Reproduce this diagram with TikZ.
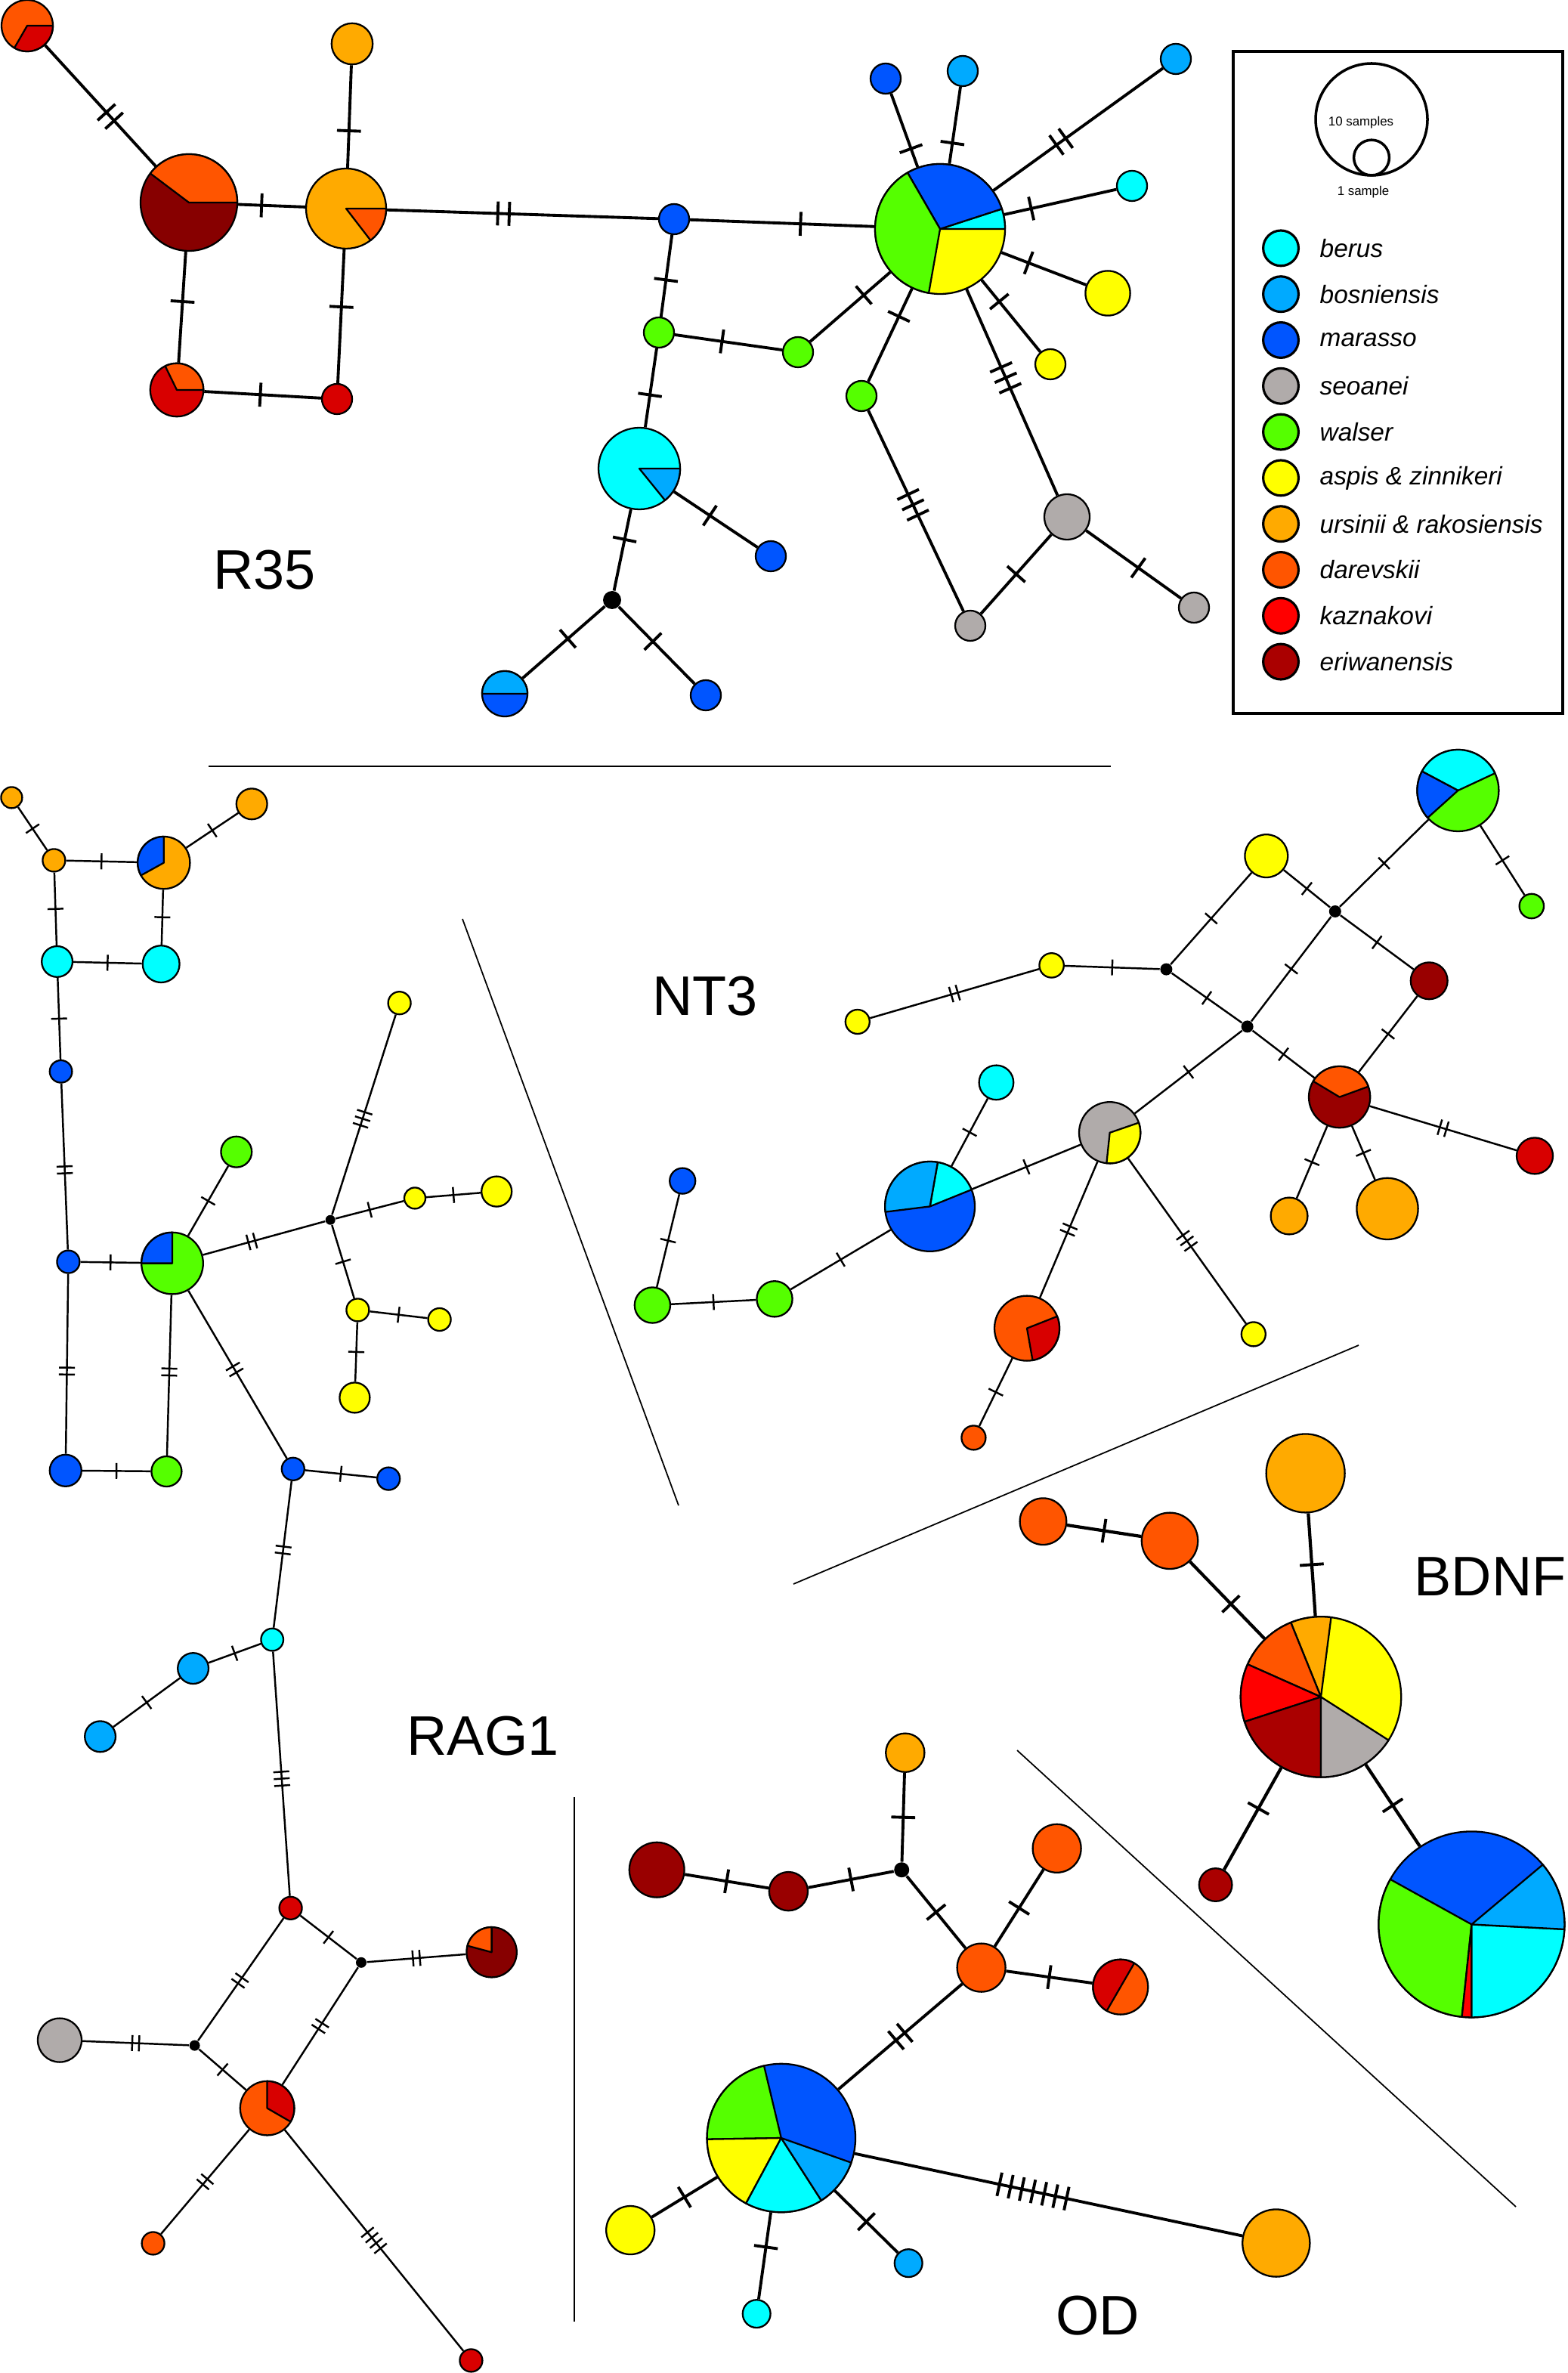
\documentclass[tikz,border=0pt]{standalone}
\usepackage{fontspec}
\setmainfont{Liberation Sans}
\usetikzlibrary{positioning, decorations.markings}

\definecolor{berus}{HTML}{00FFFF}
\definecolor{bosn}{HTML}{00AAFF}
\definecolor{mara}{HTML}{0055FF}
\definecolor{seoa}{HTML}{B0ABAA}
\definecolor{wals}{HTML}{55FF00}
\definecolor{aspis}{HTML}{FFFF00}
\definecolor{ursi}{HTML}{FFAA00}
\definecolor{dare}{HTML}{FF5500}
\definecolor{kazn}{HTML}{FF0000}
\definecolor{kazd}{HTML}{D80000}
\definecolor{eriw}{HTML}{AA0000}
\definecolor{erim}{HTML}{990000}
\definecolor{erid}{HTML}{870000}

\tikzset{
  hapl/.style={circle, draw, line width=0.65pt, inner sep=0pt},
  jn/.style={circle, fill=black, inner sep=0pt},
  thk/.style={line width=1.1pt},
  thn/.style={line width=0.7pt},
  sep/.style={line width=0.5pt},
  lbl/.style={font=\fontsize{21}{25}\selectfont},
  keytxt/.style={inner sep=0pt, font=\fontsize{9.5}{11}\selectfont\itshape},
  mt/.style n args={2}{postaction={decorate, decoration={markings, mark=at position #2 with
    {\foreach \k in {1,...,#1}{\draw[line width=1.1pt] ({(\k-(#1+1)/2)*4.3pt},-4.5pt) -- ++(0,9pt);}}}}},
  ms/.style n args={2}{postaction={decorate, decoration={markings, mark=at position #2 with
    {\foreach \k in {1,...,#1}{\draw[line width=0.7pt] ({(\k-(#1+1)/2)*2.6pt},-3pt) -- ++(0,6pt);}}}}},
}

% haplotype circle: name, x, y, radius, colour
\newcommand{\hap}[5]{\node[hapl, minimum size={#4*0.4mm}, fill=#5] (#1) at (#2,#3) {};}
% pie slice on a haplotype: name, radius, start, end, colour
\newcommand{\pieslice}[5]{\filldraw[fill=#5, line width=0.65pt, line join=round]
  (#1.center) -- ++(#3:{#2*0.2mm}) arc[start angle=#3, end angle=#4, radius={#2*0.2mm}] -- cycle;}

\begin{document}
\begin{tikzpicture}[x=0.2mm, y=-0.2mm]
\useasboundingbox (0,0) rectangle (1037,1570);

% R35
\hap{a1}{18}{17}{17}{dare}
\pieslice{a1}{17}{240}{360}{kazd}
\hap{a2}{125}{134}{32}{erid}
\pieslice{a2}{32}{0}{143}{dare}
\hap{a3}{229}{138}{26.5}{ursi}
\pieslice{a3}{26.5}{307.6}{360}{dare}
\hap{a4}{233}{29}{13.6}{ursi}
\hap{a5}{117}{258}{17.6}{kazd}
\pieslice{a5}{17.6}{0}{116}{dare}
\hap{a6}{223}{264}{10}{kazd}
\hap{a7}{446}{145}{10}{mara}
\hap{a8}{436}{220}{10}{wals}
\hap{a9}{528}{233}{10}{wals}
\hap{a10}{423}{310}{27}{berus}
\pieslice{a10}{27}{309}{360}{bosn}
\hap{a11}{510}{368}{10}{mara}
\node[jn, minimum size=2.4mm] (a12) at (405,397) {};
\hap{a13}{334}{459}{15}{mara}
\pieslice{a13}{15}{0}{180}{bosn}
\hap{a14}{467}{460}{10}{mara}
\hap{a15}{622}{151.5}{43}{aspis}
\pieslice{a15}{43}{0}{18}{berus}
\pieslice{a15}{43}{18}{120}{mara}
\pieslice{a15}{43}{120}{260}{wals}
\hap{a16}{586}{52}{10}{mara}
\hap{a17}{637}{47}{10}{bosn}
\hap{a18}{778}{39}{10}{bosn}
\hap{a19}{749}{123}{10}{berus}
\hap{a20}{733}{194}{14.8}{aspis}
\hap{a21}{695}{241}{10}{aspis}
\hap{a22}{570}{262}{10}{wals}
\hap{a23}{706}{342}{15}{seoa}
\hap{a24}{642}{414}{10}{seoa}
\hap{a25}{790}{402}{10}{seoa}
\foreach \a/\b/\n/\p in {a1/a2/2/.59, a2/a3/1/.35, a3/a4/1/.36, a2/a5/1/.45, a3/a6/1/.43,
  a5/a6/1/.48, a3/a7/2/.43, a7/a15/1/.6, a7/a8/1/.55, a8/a9/1/.44, a9/a15/1/.67, a8/a10/1/.59,
  a10/a11/1/.43, a10/a12/1/.37, a12/a13/1/.45, a12/a14/1/.45, a15/a16/1/.25, a15/a17/1/.27,
  a15/a18/2/.4, a15/a19/1/.24, a15/a20/1/.32, a15/a21/1/.3, a15/a22/1/.3, a15/a23/3/.43,
  a22/a24/3/.47, a23/a24/1/.5, a23/a25/1/.55}
  \draw[thk, mt={\n}{\p}] (\a) -- (\b);
\node[lbl] (lr35) at (175,377) {R35};

% legend
\draw[line width=1.2pt] (816,34) rectangle (1034,472);
\node[hapl, line width=1pt, minimum size={74*0.2mm}] (sz10) at (907.5,79) {};
\node[hapl, line width=1pt, minimum size={23.4*0.2mm}] (sz1) at (907.5,104.3) {};
\node[font=\fontsize{4.8}{6}\selectfont, inner sep=0pt] (t10) at (900.5,81) {10 samples};
\node[font=\fontsize{4.8}{6}\selectfont, inner sep=0pt] (t1) at (902,127) {1 sample};
\foreach \c/\t [count=\i] in {berus/berus, bosn/bosniensis, mara/marasso, seoa/seoanei,
  wals/walser, aspis/aspis \& zinnikeri, ursi/ursinii \& rakosiensis, dare/darevskii,
  kazn/kaznakovi, eriw/eriwanensis}
{
  \node[hapl, line width=0.9pt, fill=\c, minimum size={23.4*0.2mm}] (k\i) at (847.5,{164.2+30.4*(\i-1)}) {};
  \node[keytxt, right=2.6mm of k\i] (kt\i) {\t};
}

% separators
\draw[sep] (138,507) -- (735,507);
\draw[sep] (306,608) -- (449,996);
\draw[sep] (525,1048) -- (899,890);
\draw[sep] (673,1158) -- (1003,1460);
\draw[sep] (380,1189) -- (380,1536);

% RAG1
\hap{r1}{7.7}{527.7}{7}{ursi}
\hap{r2}{35.7}{569.2}{7.5}{ursi}
\hap{r3}{108.4}{570.8}{17.3}{ursi}
\pieslice{r3}{17.3}{90}{209}{mara}
\hap{r4}{166.6}{531.9}{10.2}{ursi}
\hap{r5}{37.8}{636.2}{10.2}{berus}
\hap{r6}{106.6}{637.8}{12.2}{berus}
\hap{r7}{40.3}{708.9}{7.4}{mara}
\hap{r8}{45.2}{834.8}{7.5}{mara}
\hap{r9}{114}{835.8}{20.4}{wals}
\pieslice{r9}{20.4}{90}{180}{mara}
\hap{r10}{156.4}{762.1}{10.2}{wals}
\node[jn, minimum size=1.3mm] (r11) at (218.6,807.1) {};
\hap{r12}{264.3}{663.6}{7.5}{aspis}
\hap{r13}{274.5}{792.7}{7}{aspis}
\hap{r14}{328.6}{788.3}{10}{aspis}
\hap{r15}{236.7}{866.7}{7.5}{aspis}
\hap{r16}{290.8}{873}{7.5}{aspis}
\hap{r17}{234.7}{924.7}{10}{aspis}
\hap{r18}{43.4}{972.9}{10.5}{mara}
\hap{r19}{110.2}{973.5}{10}{wals}
\hap{r20}{193.9}{971.9}{7.5}{mara}
\hap{r21}{257.1}{978.3}{7.5}{mara}
\hap{r22}{180.1}{1084.8}{7.4}{berus}
\hap{r23}{127.8}{1103.8}{10.2}{bosn}
\hap{r24}{66.3}{1148.9}{10.2}{bosn}
\hap{r25}{192.3}{1262.4}{7.5}{kazd}
\node[jn, minimum size=1.4mm] (r26) at (239,1298.4) {};
\hap{r27}{325.3}{1291.6}{16.6}{erid}
\pieslice{r27}{16.6}{90}{165}{dare}
\hap{r28}{39.5}{1349.8}{14.5}{seoa}
\node[jn, minimum size=1.4mm] (r29) at (128.8,1353.3) {};
\hap{r30}{176.8}{1394.8}{17.9}{dare}
\pieslice{r30}{17.9}{-30}{90}{kazd}
\hap{r31}{101.3}{1484.2}{7.5}{dare}
\hap{r32}{311.7}{1561.7}{7.5}{kazd}
\foreach \a/\b/\n/\p in {r1/r2/1/.5, r2/r3/1/.5, r3/r4/1/.5, r2/r5/1/.5, r3/r6/1/.5, r5/r6/1/.5,
  r5/r7/1/.5, r7/r8/2/.52, r8/r9/1/.5, r8/r18/2/.54, r9/r19/2/.48, r18/r19/1/.5, r9/r10/1/.5,
  r9/r11/2/.4, r11/r12/3/.48, r11/r13/1/.5, r13/r14/1/.5, r11/r15/1/.5, r15/r16/1/.5,
  r15/r17/1/.5, r9/r20/2/.47, r20/r21/1/.5, r20/r22/2/.47, r22/r23/1/.5, r23/r24/1/.5,
  r22/r25/3/.52, r25/r26/1/.5, r25/r29/2/.51, r26/r27/2/.5, r26/r30/2/.5, r29/r28/2/.5,
  r29/r30/1/.5, r30/r31/2/.5, r30/r32/4/.5}
  \draw[thn, ms={\n}{\p}] (\a) -- (\b);
\node[lbl] (lrag) at (319.5,1148.7) {RAG1};

% NT3
\hap{t1}{964.7}{523}{27}{wals}
\pieslice{t1}{27}{25}{152}{berus}
\pieslice{t1}{27}{152}{222}{mara}
\hap{t2}{1013.4}{599.5}{8.1}{wals}
\hap{t3}{837.9}{566.3}{14.2}{aspis}
\node[jn, minimum size=1.6mm] (t4) at (883.4,603) {};
\node[jn, minimum size=1.6mm] (t5) at (771.7,641.3) {};
\hap{t6}{695.8}{638.7}{8.1}{aspis}
\hap{t7}{567.4}{676}{8}{aspis}
\node[jn, minimum size=1.6mm] (t8) at (825.3,679.2) {};
\hap{t9}{945.6}{648.9}{12.2}{erim}
\hap{t10}{886.3}{725.8}{20.3}{erim}
\pieslice{t10}{20.3}{20}{149}{dare}
\hap{t11}{1015.5}{764.7}{12}{kazd}
\hap{t12}{853}{804.5}{12.2}{ursi}
\hap{t13}{918}{799.7}{20.3}{ursi}
\hap{t14}{734.3}{749.4}{20.3}{seoa}
\pieslice{t14}{20.3}{-96}{19}{aspis}
\hap{t15}{659.2}{716.2}{11.4}{berus}
\hap{t16}{615.3}{798.2}{29.7}{mara}
\pieslice{t16}{29.7}{22}{80}{berus}
\pieslice{t16}{29.7}{80}{187}{bosn}
\hap{t17}{451.6}{781.3}{8.5}{mara}
\hap{t18}{431.7}{863.5}{11.8}{wals}
\hap{t19}{512.5}{859.4}{11.8}{wals}
\hap{t20}{679.5}{878.8}{21.5}{dare}
\pieslice{t20}{21.5}{-80}{21.5}{kazd}
\hap{t21}{829.4}{882.7}{8}{aspis}
\hap{t22}{644.2}{951.2}{8}{dare}
\foreach \a/\b/\n/\p in {t1/t2/1/.5, t1/t4/1/.5, t3/t4/1/.5, t3/t5/1/.5, t4/t8/1/.5, t4/t9/1/.5,
  t5/t6/1/.5, t6/t7/2/.5, t5/t8/1/.5, t9/t10/1/.5, t8/t10/1/.5, t8/t14/1/.5, t10/t11/2/.5,
  t10/t12/1/.5, t10/t13/1/.5, t14/t16/1/.5, t14/t20/2/.5, t14/t21/3/.5, t16/t15/1/.5,
  t16/t19/1/.5, t19/t18/1/.5, t18/t17/1/.5, t20/t22/1/.5}
  \draw[thn, ms={\n}{\p}] (\a) -- (\b);
\node[lbl] (lnt3) at (466.5,659) {NT3};

% BDNF
\hap{b1}{863.8}{974.7}{26}{ursi}
\hap{b2}{690.2}{1006.6}{15.4}{dare}
\hap{b3}{774}{1019.4}{18.6}{dare}
\hap{b4}{874}{1122.7}{53.1}{aspis}
\pieslice{b4}{53.1}{82.7}{112}{ursi}
\pieslice{b4}{53.1}{112}{156}{dare}
\pieslice{b4}{53.1}{156}{198}{kazn}
\pieslice{b4}{53.1}{198}{270}{eriw}
\pieslice{b4}{53.1}{270}{327.4}{seoa}
\hap{b5}{804.3}{1247}{10.9}{eriw}
\hap{b6}{973.7}{1273.2}{61.5}{mara}
\pieslice{b6}{61.5}{151}{264}{wals}
\pieslice{b6}{61.5}{264}{270}{kazn}
\pieslice{b6}{61.5}{270}{357}{berus}
\pieslice{b6}{61.5}{-3}{40}{bosn}
\foreach \a/\b/\n/\p in {b2/b3/1/.5, b3/b4/1/.55, b1/b4/1/.5, b4/b5/1/.4, b4/b6/1/.5}
  \draw[thk, line width=1.2pt, mt={\n}{\p}] (\a) -- (\b);
\node[lbl] (lbdnf) at (986,1043) {BDNF};

% OD
\hap{o1}{598.9}{1159.6}{12.8}{ursi}
\node[jn, minimum size=2mm] (o2) at (596.6,1237.1) {};
\hap{o3}{434.6}{1237.1}{18.2}{erim}
\hap{o4}{521.7}{1251.3}{12.8}{erim}
\hap{o5}{699.3}{1222.9}{16}{dare}
\hap{o6}{649.3}{1301.8}{16}{dare}
\hap{o7}{741.4}{1314.6}{18.2}{dare}
\pieslice{o7}{18.2}{60}{240}{kazd}
\hap{o8}{516.9}{1414.5}{49.1}{mara}
\pieslice{o8}{49.1}{103.4}{181}{wals}
\pieslice{o8}{49.1}{181}{241.7}{aspis}
\pieslice{o8}{49.1}{241.7}{302.7}{berus}
\pieslice{o8}{49.1}{302.7}{340.6}{bosn}
\hap{o9}{417.1}{1475.5}{16}{aspis}
\hap{o10}{500.6}{1530.8}{9.2}{berus}
\hap{o11}{601.1}{1497.3}{9.2}{bosn}
\hap{o12}{844.4}{1484}{22.3}{ursi}
\foreach \a/\b/\n/\p in {o1/o2/1/.5, o3/o4/1/.5, o4/o2/1/.5, o2/o6/1/.5, o5/o6/1/.5,
  o6/o7/1/.5, o6/o8/2/.5, o8/o9/1/.5, o8/o10/1/.4, o8/o11/1/.5, o8/o12/7/.46}
  \draw[thk, mt={\n}{\p}] (\a) -- (\b);
\node[lbl] (lod) at (726.4,1532) {OD};
\end{tikzpicture}
\end{document}
